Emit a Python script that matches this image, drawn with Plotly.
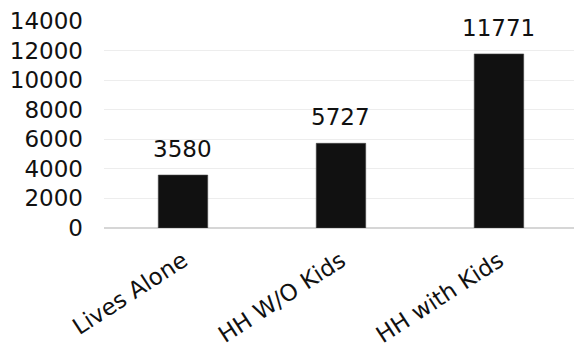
import plotly.graph_objects as go

categories = ["Lives Alone", "HH W/O Kids", "HH with Kids"]
values = [3580, 5727, 11771]
y_ticks = [0, 2000, 4000, 6000, 8000, 10000, 12000, 14000]
y_tick_text = [str(t) for t in y_ticks]

FONT = "DejaVu Sans, Verdana, sans-serif"

fig = go.Figure()
fig.add_trace(go.Bar(
    x=categories,
    y=values,
    width=0.313,
    marker=dict(color="#111111", line=dict(color="#444444", width=0.6)),
    hoverinfo="skip",
))

# value labels above each bar
for c, v in zip(categories, values):
    fig.add_annotation(
        x=c, y=v, text=str(v), showarrow=False,
        yanchor="bottom", yshift=11,
        font=dict(family=FONT, size=23, color="#111111"),
    )

fig.update_layout(
    width=574, height=356,
    margin=dict(l=104, r=0, t=21, b=128),
    paper_bgcolor="white", plot_bgcolor="white",
    showlegend=False,
    font=dict(family=FONT, size=23, color="#111111"),
    xaxis=dict(
        range=[-0.5, 2.475],
        tickangle=-33,
        showgrid=False, showline=False, zeroline=False,
        ticks="", tickfont=dict(size=23),
        ticklabelstandoff=14,
        automargin=False,
    ),
    yaxis=dict(
        range=[0, 14000],
        tickvals=y_ticks,
        ticktext=y_tick_text,
        showgrid=True, gridcolor="#ededed", gridwidth=1,
        zeroline=True, zerolinecolor="#d6d6d6", zerolinewidth=1.5,
        showline=False, ticks="",
        ticklabelstandoff=20,
        tickfont=dict(size=23),
        automargin=False,
    ),
)

fig.write_html("out.html")
